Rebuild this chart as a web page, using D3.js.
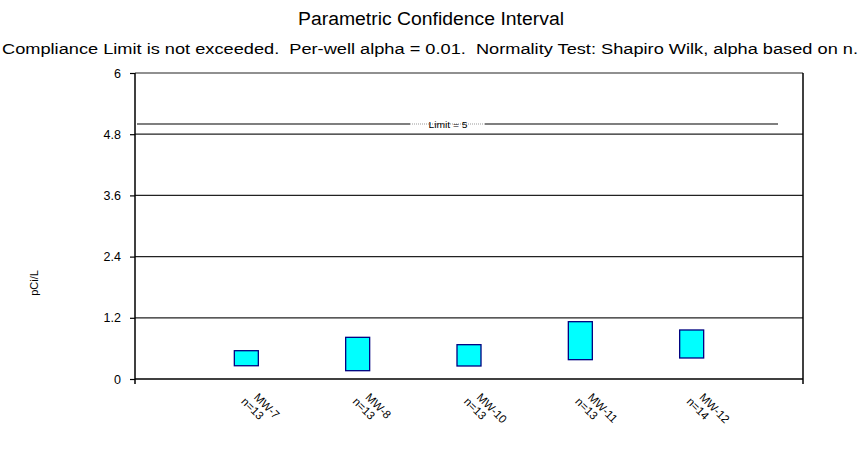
<!DOCTYPE html>
<html><head><meta charset="utf-8">
<script src="https://cdn.jsdelivr.net/npm/d3@7"></script>
<style>body{margin:0;background:#fff;} text{font-family:Arial,"Liberation Sans",sans-serif;}</style>
</head><body>
<svg id="c" width="863" height="471"></svg>
<script>
const wells = ["MW-7","MW-8","MW-10","MW-11","MW-12"];
const counts = [13,13,13,13,14];
const lower = [0.26,0.163,0.255,0.379,0.412];
const upper = [0.555,0.817,0.673,1.124,0.961];
const yTicks = [0,1.2,2.4,3.6,4.8,6];
const limitValue = 5;
const titleText = "Parametric Confidence Interval";
const subtitleText = "Compliance Limit is not exceeded.  Per-well alpha = 0.01.  Normality Test: Shapiro Wilk, alpha based on n.";
const yLabel = "pCi/L";

const svg = d3.select("#c");
const L = 135, R = 803, T = 73, B = 379;
const y = d3.scaleLinear().domain([0,6]).range([B,T]);
const x = d3.scaleLinear().domain([0,wells.length+1]).range([L,R]);

svg.append("text").attr("x",431).attr("y",25).attr("text-anchor","middle")
  .attr("textLength",266).attr("lengthAdjust","spacingAndGlyphs")
  .style("font-size","18px").text(titleText);
svg.append("text").attr("x",430).attr("y",54).attr("text-anchor","middle")
  .attr("textLength",856).attr("lengthAdjust","spacingAndGlyphs")
  .style("font-size","14px").attr("xml:space","preserve").text(subtitleText);

// gridlines
svg.append("g").selectAll("line").data(yTicks.filter(d=>d>0)).join("line")
  .attr("x1",L).attr("x2",R).attr("y1",d=>y(d)).attr("y2",d=>y(d))
  .attr("stroke","#222").attr("stroke-width",1.2);

// y axis
const yAxis = d3.axisLeft(y).tickValues(yTicks).tickSize(5).tickPadding(9).tickFormat(d=>d3.format("")(d));
const ga = svg.append("g").attr("transform",`translate(${L},0)`).call(yAxis);
ga.select(".domain").remove();
ga.selectAll("line").attr("stroke","#000").attr("stroke-width",1.2);
ga.selectAll("text").style("font-size","12.5px").attr("fill","#000").style("font-family","Arial,'Liberation Sans',sans-serif");
svg.append("line").attr("x1",L).attr("x2",L).attr("y1",T).attr("y2",B+5).attr("stroke","#000").attr("stroke-width",1.5);
svg.append("line").attr("x1",R).attr("x2",R).attr("y1",T).attr("y2",B+5).attr("stroke","#000").attr("stroke-width",1.5);
svg.append("line").attr("x1",L).attr("x2",R).attr("y1",B).attr("y2",B).attr("stroke","#000").attr("stroke-width",1.5);

// limit line
const limY = y(limitValue);
svg.append("line").attr("x1",137).attr("x2",410).attr("y1",limY).attr("y2",limY).attr("stroke","#000").attr("stroke-width",1.2);
svg.append("line").attr("x1",485).attr("x2",778).attr("y1",limY).attr("y2",limY).attr("stroke","#000").attr("stroke-width",1.2);
svg.append("line").attr("x1",410).attr("x2",485).attr("y1",limY).attr("y2",limY).attr("stroke","#999").attr("stroke-width",1).attr("stroke-dasharray","1,1");
svg.append("text").attr("x",448).attr("y",limY+3.5).attr("text-anchor","middle")
  .attr("textLength",39).attr("lengthAdjust","spacingAndGlyphs").style("font-size","9.5px").text("Limit = " + limitValue);

// bars
const bw = 24;
svg.append("g").selectAll("rect").data(wells).join("rect")
  .attr("x",(d,i)=>x(i+1)-bw/2).attr("width",bw)
  .attr("y",(d,i)=>y(upper[i])).attr("height",(d,i)=>y(lower[i])-y(upper[i]))
  .attr("fill","#00ffff").attr("stroke","#000080").attr("stroke-width",1.3);

// x labels
const lab = svg.append("g").selectAll("g").data(wells).join("g")
  .attr("transform",(d,i)=>`translate(${x(i+1)+7},398) rotate(45)`);
lab.append("text").attr("x",0).attr("y",0).style("font-size","11.5px").text(d=>d);
lab.append("text").attr("x",-6).attr("y",12).style("font-size","11.5px").text((d,i)=>"n="+counts[i]);

// y label
svg.append("text").attr("transform",`translate(38,283) rotate(-90)`).attr("text-anchor","middle")
  .style("font-size","11px").text(yLabel);
</script>
</body></html>
